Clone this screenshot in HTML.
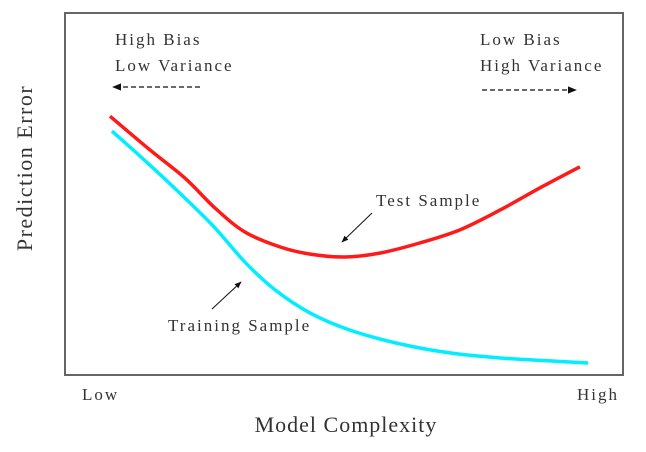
<!DOCTYPE html>
<html><head><meta charset="utf-8"><style>
body{margin:0;background:#fff}
svg text{font-family:"Liberation Serif",serif;fill:#333}
.s{font-size:17px;letter-spacing:2px}
</style></head><body>
<svg width="646" height="447" viewBox="0 0 646 447">
<defs><marker id="ah" viewBox="0 0 10 10" refX="9" refY="5" markerWidth="7" markerHeight="7" orient="auto"><path d="M0,1 L10,5 L0,9 z" fill="#111"/></marker></defs>
<rect x="65" y="13" width="558" height="362" fill="none" stroke="#666" stroke-width="2"/>
<g id="series"></g>
<text class="s" x="115" y="45">High Bias</text>
<text class="s" x="115" y="71">Low Variance</text>
<line x1="200" y1="87" x2="113" y2="87" stroke="#111" stroke-width="1.3" stroke-dasharray="5,3" marker-end="url(#ah)"/>
<text class="s" x="480" y="45">Low Bias</text>
<text class="s" x="480" y="71">High Variance</text>
<line x1="482" y1="90" x2="576" y2="90" stroke="#111" stroke-width="1.3" stroke-dasharray="5,3" marker-end="url(#ah)"/>
<text class="s" x="376" y="206">Test Sample</text>
<line x1="372" y1="213" x2="342" y2="242" stroke="#111" stroke-width="1" marker-end="url(#ah)"/>
<text class="s" x="168" y="331">Training Sample</text>
<line x1="212" y1="309" x2="241" y2="282" stroke="#111" stroke-width="1" marker-end="url(#ah)"/>
<text class="s" x="82" y="400">Low</text>
<text class="s" x="577" y="400">High</text>
<text x="346" y="432" font-size="22" letter-spacing="1" text-anchor="middle">Model Complexity</text>
<text transform="translate(32,168) rotate(-90)" font-size="22" letter-spacing="1.5" text-anchor="middle">Prediction Error</text>
</svg>
<script>
const testX=[0,0.83,1.56,2.19,2.81,3.54,4.17,4.9,5.63,6.46,7.29,8.13,8.96,9.79];
const testY=[7.15,6.22,5.44,4.61,3.95,3.54,3.34,3.26,3.37,3.65,4.01,4.56,5.17,5.75];
const trainX=[0.04,0.83,1.56,2.19,2.81,3.44,4.17,5,6.04,7.08,8.13,9.17,9.96];
const trainY=[6.74,5.80,4.89,4.06,3.12,2.35,1.71,1.24,0.86,0.61,0.47,0.39,0.33];
function sx(v){return 110+v*48;}
function sy(v){return 375-v*36.2;}
function pathFor(xs,ys){
  const p=xs.map((x,i)=>[sx(x),sy(ys[i])]);
  let d='M'+p[0][0]+','+p[0][1];
  for(let i=0;i<p.length-1;i++){
    const p0=p[Math.max(i-1,0)],p1=p[i],p2=p[i+1],p3=p[Math.min(i+2,p.length-1)];
    const c1=[p1[0]+(p2[0]-p0[0])/6,p1[1]+(p2[1]-p0[1])/6];
    const c2=[p2[0]-(p3[0]-p1[0])/6,p2[1]-(p3[1]-p1[1])/6];
    d+=' C'+c1[0]+','+c1[1]+' '+c2[0]+','+c2[1]+' '+p2[0]+','+p2[1];
  }
  return d;
}
const g=document.getElementById('series');
const ns='http://www.w3.org/2000/svg';
const tr=document.createElementNS(ns,'path');
tr.setAttribute('d',pathFor(trainX,trainY));
tr.setAttribute('fill','none');tr.setAttribute('stroke','#00eeff');tr.setAttribute('stroke-width','3.5');


g.appendChild(tr);
const te=document.createElementNS(ns,'path');
te.setAttribute('d',pathFor(testX,testY));
te.setAttribute('fill','none');te.setAttribute('stroke','#ff1a1a');te.setAttribute('stroke-width','3.5');


g.appendChild(te);
</script>
</body></html>
